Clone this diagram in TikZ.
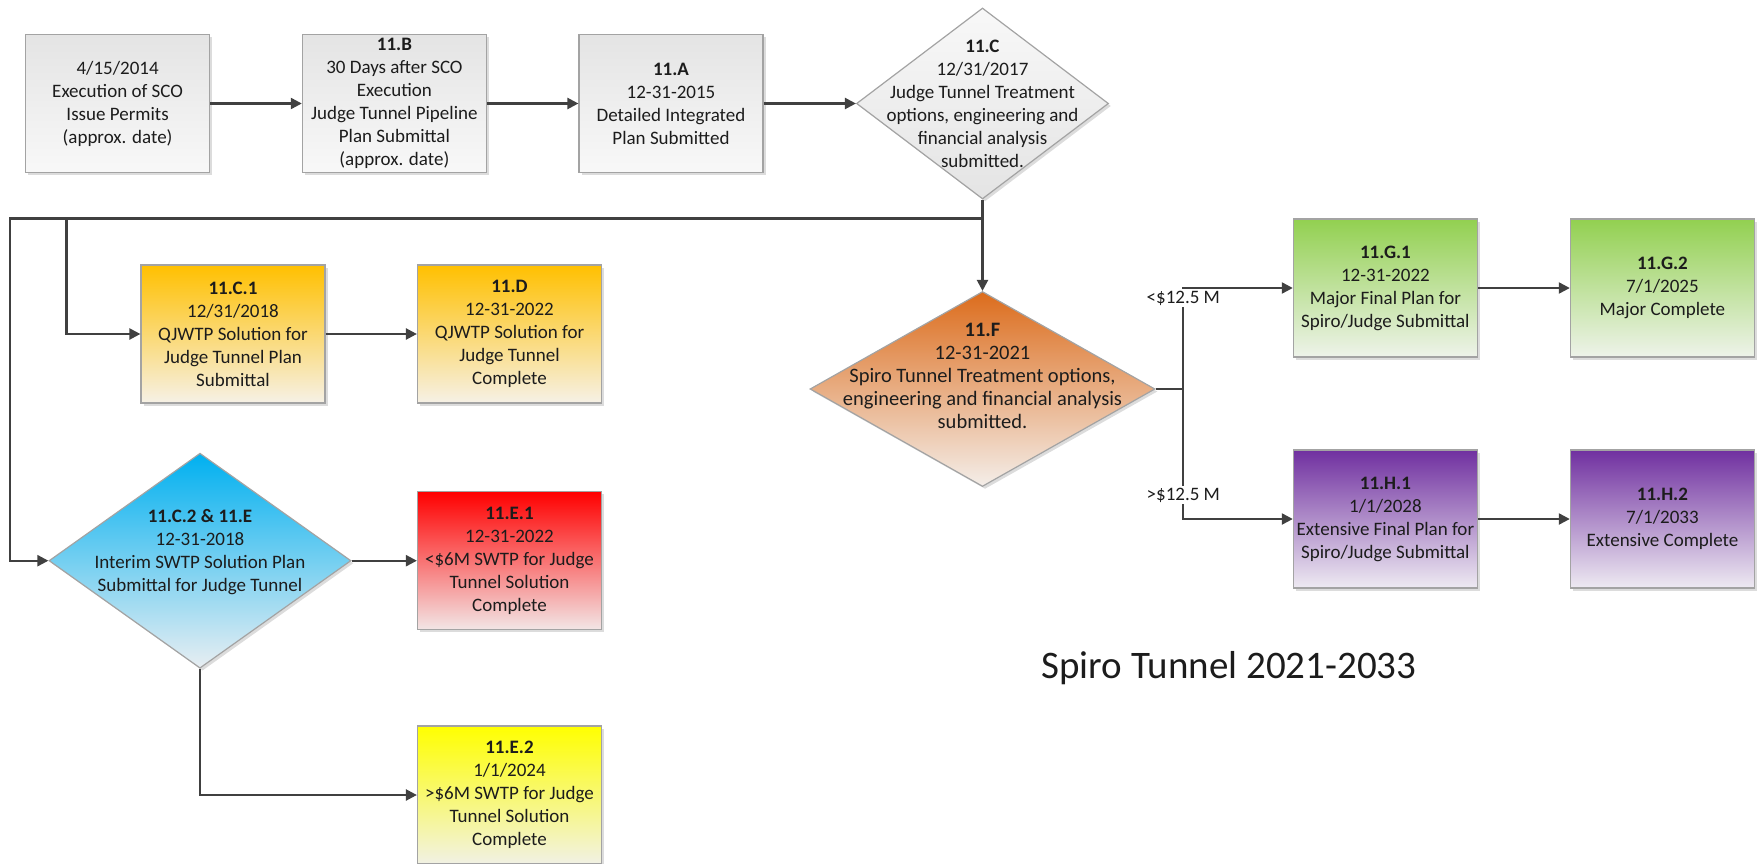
\documentclass[tikz,border=0pt]{standalone}
\usepackage{fontspec}
\setmainfont{Carlito}
\usetikzlibrary{arrows.meta, shapes.geometric, shadows}
\definecolor{lnkgray}{HTML}{404040}
\definecolor{edgegray}{HTML}{A3A3A3}
\definecolor{txtdark}{HTML}{1C1C1C}
\definecolor{pgtop}{HTML}{E4E4E4}
\definecolor{pgbot}{HTML}{F8F8F8}
\definecolor{goldtop}{HTML}{FFC000}
\definecolor{goldbot}{HTML}{F6F1E6}
\definecolor{redtop}{HTML}{FF0000}
\definecolor{redbot}{HTML}{F2E6E6}
\definecolor{yeltop}{HTML}{FFFF00}
\definecolor{yelbot}{HTML}{F1F1E4}
\definecolor{bluetop}{HTML}{00B0F0}
\definecolor{bluebot}{HTML}{E8EEF2}
\definecolor{rusttop}{HTML}{DC6C1C}
\definecolor{rustbot}{HTML}{F4EEE9}
\definecolor{greentop}{HTML}{92D050}
\definecolor{greenbot}{HTML}{EEF3EA}
\definecolor{purptop}{HTML}{7030A0}
\definecolor{purpbot}{HTML}{EEEAF2}
\newcommand\boxfont{\fontsize{19}{23}\selectfont}

\begin{document}
\begin{tikzpicture}[x=1pt, y=-1pt, >={Triangle[length=11pt, width=11pt]},
  stage/.style={rectangle, draw=edgegray, line width=1.2pt, minimum width=184pt,
    minimum height=138pt, inner sep=0pt, align=center, font=\boxfont, text=txtdark,
    drop shadow={shadow xshift=2.5pt, shadow yshift=-2.5pt, opacity=0.3, fill=black!45}},
  decision/.style={diamond, draw=edgegray, line width=1.2pt, inner sep=0pt,
    drop shadow={shadow xshift=2.5pt, shadow yshift=-2.5pt, opacity=0.3, fill=black!45}},
  dtext/.style={align=center, font=\boxfont, text=txtdark},
  link/.style={draw=lnkgray, line width=2.3pt},
  cost/.style={fill=white, inner sep=2pt, font=\boxfont, text=txtdark}]

% Page
\useasboundingbox (0,0) rectangle (1763,864);

% ========== Judge Tunnel (top row) ==========
\node[stage, top color=pgtop, bottom color=pgbot] (sco) at (117.6,103.5)
  {4/15/2014\\Execution of SCO\\Issue Permits\\(approx. date)};
\node[stage, top color=pgtop, bottom color=pgbot] (b) at (394.4,103.5)
  {\textbf{11.B}\\30 Days after SCO\\Execution\\Judge Tunnel Pipeline\\Plan Submittal\\(approx. date)};
\node[stage, top color=pgtop, bottom color=pgbot] (a) at (671,103.5)
  {\textbf{11.A}\\12-31-2015\\Detailed Integrated\\Plan Submitted};
\node[decision, top color=pgbot, bottom color=pgtop, minimum width=252pt, minimum height=191pt,
  label={[dtext]center:{\textbf{11.C}\\12/31/2017\\Judge Tunnel Treatment\\options, engineering and\\financial analysis\\submitted.}}]
  (c) at (982.5,103.5) {};

\draw[link, ->] (sco) -- (b);
\draw[link, ->] (b) -- (a);
\draw[link, ->] (a.east) -- (c.west);

% ========== Judge Tunnel solutions (left) ==========
\node[stage, top color=goldtop, bottom color=goldbot] (c1) at (233,334)
  {\textbf{11.C.1}\\12/31/2018\\QJWTP Solution for\\Judge Tunnel Plan\\Submittal};
\node[stage, top color=goldtop, bottom color=goldbot] (d) at (509.5,334)
  {\textbf{11.D}\\12-31-2022\\QJWTP Solution for\\Judge Tunnel\\Complete};
\node[decision, top color=bluetop, bottom color=bluebot, minimum width=302pt, minimum height=215pt,
  label={[dtext, yshift=9pt]center:{\textbf{11.C.2 \& 11.E}\\12-31-2018\\Interim SWTP Solution Plan\\Submittal for Judge Tunnel}}]
  (c2) at (200,560.7) {};
\node[stage, top color=redtop, bottom color=redbot] (e1) at (509.5,560.7)
  {\textbf{11.E.1}\\12-31-2022\\<\$6M SWTP for Judge\\Tunnel Solution\\Complete};
\node[stage, top color=yeltop, bottom color=yelbot] (e2) at (509.5,795)
  {\textbf{11.E.2}\\1/1/2024\\>\$6M SWTP for Judge\\Tunnel Solution\\Complete};

% Bus under 11.C
\coordinate (bus) at (982.5,218.5);
\coordinate (busleft) at (10,218.5);
\coordinate (bustap) at (66.5,218.5);
\draw[link, ->] (bus) -- (busleft) |- (c2.west);
\draw[link, ->] (bustap) |- (c1.west);
\draw[link, ->] (c1) -- (d);
\draw[link, ->] (c2.east) -- (e1.west);
\draw[link, ->] (c2.south) |- (e2.west);

% ========== Spiro Tunnel (right) ==========
\node[decision, top color=rusttop, bottom color=rustbot, minimum width=345pt, minimum height=195pt,
  label={[dtext, font=\fontsize{20.5}{23}\selectfont, yshift=13pt]center:{\textbf{11.F}\\12-31-2021\\Spiro Tunnel Treatment options,\\engineering and financial analysis\\submitted.}}]
  (f) at (982.5,389) {};
\draw[link, ->] (c.south) -- (f.north);

\node[stage, top color=greentop, bottom color=greenbot] (g1) at (1385.4,288)
  {\textbf{11.G.1}\\12-31-2022\\Major Final Plan for\\Spiro/Judge Submittal};
\node[stage, top color=greentop, bottom color=greenbot] (g2) at (1662.4,288)
  {\textbf{11.G.2}\\7/1/2025\\Major Complete};
\node[stage, top color=purptop, bottom color=purpbot] (h1) at (1385.4,519)
  {\textbf{11.H.1}\\1/1/2028\\Extensive Final Plan for\\Spiro/Judge Submittal};
\node[stage, top color=purptop, bottom color=purpbot] (h2) at (1662.4,519)
  {\textbf{11.H.2}\\7/1/2033\\Extensive Complete};

\coordinate (split) at (1183.3,389);
\draw[link] (f.east) -- (split);
\draw[link, ->] (split) |- (g1.west);
\draw[link, ->] (split) |- (h1.west);
\draw[link, ->] (g1) -- (g2);
\draw[link, ->] (h1) -- (h2);

% Cost labels
\node[cost] (lesscost) at (1183.3,298) {<\$12.5 M};
\node[cost] (morecost) at (1183.3,495) {>\$12.5 M};

% Title
\node[font=\fontsize{39}{47}\selectfont, text=txtdark] (title) at (1229,668) {Spiro Tunnel 2021-2033};

\end{tikzpicture}
\end{document}
